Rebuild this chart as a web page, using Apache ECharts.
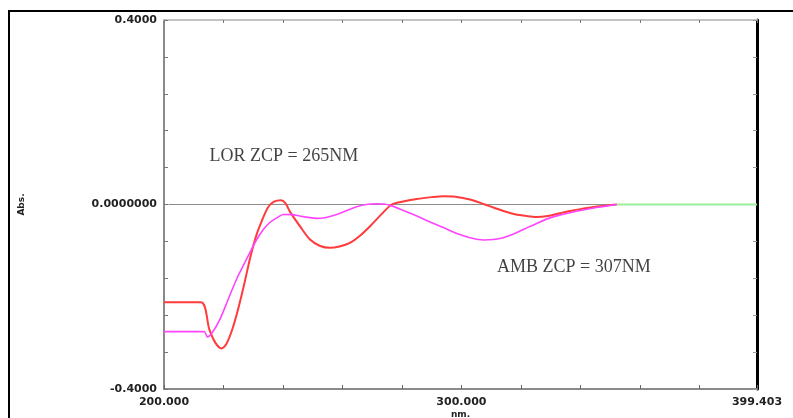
<!DOCTYPE html>
<html>
<head>
<meta charset="utf-8">
<script src="https://cdn.jsdelivr.net/npm/echarts@6/dist/echarts.min.js"></script>
<style>html,body{margin:0;padding:0;background:#fff}#c{width:793px;height:418px}</style>
</head>
<body>
<div id="c"></div>
<script>
// wavelength (nm) / absorbance pairs
const lorWavelengths = [200,212.4,215.3,217.3,219.3,221,223,225,227,229,231,233,235,237,239.3,240.8,242.4,245.7,249.1,252.5,255.8,259,262.5,266,269.3,273,276.6,280,285,290,293.8,298,302.9,307.9,311,314.1,318,322,325.3,329,333,336.5,340,345,349,352.2];
const lorValues = [-0.212,-0.212,-0.272,-0.300,-0.312,-0.302,-0.270,-0.225,-0.172,-0.115,-0.068,-0.034,-0.006,0.006,0.009,0.003,-0.016,-0.047,-0.076,-0.090,-0.094,-0.091,-0.083,-0.067,-0.047,-0.022,0,0.006,0.012,0.016,0.018,0.017,0.011,0,-0.007,-0.014,-0.021,-0.025,-0.027,-0.025,-0.019,-0.014,-0.010,-0.005,-0.002,0];
const ambWavelengths = [200,213.5,214.6,216.2,218.8,221.5,224.4,226.7,228.9,231,233.4,235.6,237.9,240.1,243,245.7,248.5,251.3,254.5,258.1,261.5,264.8,268,271.5,274,276.6,280.5,285,289.5,293.9,298.5,302.9,307.4,310.8,314.1,317.5,320.8,325.3,329.8,333,336.5,340,344,348,352.2];
const ambValues = [-0.2757,-0.2757,-0.287,-0.278,-0.249,-0.207,-0.162,-0.132,-0.104,-0.078,-0.054,-0.039,-0.029,-0.0216,-0.022,-0.025,-0.028,-0.030,-0.028,-0.0216,-0.013,-0.005,0,0.0015,0.001,-0.003,-0.013,-0.025,-0.038,-0.050,-0.063,-0.072,-0.077,-0.076,-0.072,-0.064,-0.054,-0.041,-0.029,-0.023,-0.018,-0.013,-0.008,-0.004,0];
const baseWavelengths = [352.2,399.403];
const baseValues = [0,0];
const zeroWavelengths = [201.5,399.403];
const zeroValues = [0,0];
const xMin = 200, xMax = 399.403;
const yMin = -0.4, yMax = 0.4;
const xTickLabels = {200:'200.000',300:'300.000'};
const xMaxLabel = '399.403';
const yTickLabels = ['-0.4000','0.0000000','0.4000'];
const xName = 'nm.', yName = 'Abs.';
const lorNote = 'LOR ZCP = 265NM', ambNote = 'AMB ZCP = 307NM';
const lorNoteAt = [215.3, 0.105], ambNoteAt = [312, -0.136];

const zip = (a,b) => a.map((v,i)=>[v,b[i]]);
const chart = echarts.init(document.getElementById('c'));
const tickFont = {fontFamily:'DejaVu Sans', fontWeight:'bold', fontSize:11, color:'#222'};
chart.setOption({
  animation:false,
  backgroundColor:'#fff',
  grid:{left:164,right:36,top:20,bottom:29,show:false,containLabel:false,outerBoundsMode:'none'},
  graphic:[{type:'rect',shape:{x:9,y:11,width:820,height:440},style:{fill:null,stroke:'#000',lineWidth:2},silent:true,z:-1}],
  xAxis:[{
    type:'value',min:xMin,max:xMax,interval:20,position:'bottom',
    name:xName,nameLocation:'middle',nameGap:21,nameMoveOverlap:false,
    nameTextStyle:{fontFamily:'DejaVu Sans',fontWeight:'bold',fontSize:9,color:'#222'},
    axisLine:{onZero:false,lineStyle:{color:'#8a8a8a',width:2}},
    axisTick:{inside:true,length:4,lineStyle:{color:'#666'}},
    splitLine:{show:false},
    axisLabel:Object.assign({margin:8,showMaxLabel:true,hideOverlap:false,
      formatter:v=> v>399 ? xMaxLabel : (xTickLabels[Math.round(v)] && Math.abs(v-Math.round(v))<1e-6 ? xTickLabels[Math.round(v)] : '')},tickFont)
  },{
    type:'value',min:xMin,max:xMax,interval:20,position:'top',
    axisLine:{show:true,onZero:false,lineStyle:{color:'#c4c4c4',width:2}},
    axisTick:{inside:true,length:3,lineStyle:{color:'#777'}},
    axisLabel:{show:false},splitLine:{show:false}
  }],
  yAxis:[{
    type:'value',min:yMin,max:yMax,interval:0.08,position:'left',
    name:yName,nameLocation:'middle',nameGap:138,nameRotate:90,nameMoveOverlap:false,
    nameTextStyle:{fontFamily:'DejaVu Sans',fontWeight:'bold',fontSize:9,color:'#222'},
    axisLine:{show:true,onZero:false,lineStyle:{color:'#8a8a8a',width:2}},
    axisTick:{inside:true,length:4,lineStyle:{color:'#777'}},
    splitLine:{show:false},
    axisLabel:Object.assign({margin:7,showMinLabel:true,showMaxLabel:true,
      formatter:v=> Math.abs(v-yMin)<1e-6 ? yTickLabels[0] : (Math.abs(v)<1e-6 ? yTickLabels[1] : (Math.abs(v-yMax)<1e-6 ? yTickLabels[2] : ''))},tickFont)
  },{
    type:'value',min:yMin,max:yMax,interval:0.08,position:'right',
    axisLine:{show:true,onZero:false,lineStyle:{color:'#000',width:3}},
    axisTick:{inside:true,length:4,lineStyle:{color:'#999'}},
    axisLabel:{show:false},splitLine:{show:false}
  }],
  series:[
    {type:'line',name:'zero',data:zip(zeroWavelengths,zeroValues),showSymbol:false,silent:true,z:1,
     lineStyle:{color:'#8c8c8c',width:1}},
    {type:'line',name:'base',data:zip(baseWavelengths,baseValues),showSymbol:false,z:2,
     lineStyle:{color:'#99ee99',width:2}},
    {type:'line',name:'LOR',data:zip(lorWavelengths,lorValues),showSymbol:false,smooth:0.3,z:3,
     lineStyle:{color:'#ff3b3b',width:2}},
    {type:'line',name:'AMB',data:zip(ambWavelengths,ambValues),showSymbol:false,smooth:0.3,z:4,
     lineStyle:{color:'#ff44ff',width:1.6}},
    {type:'scatter',name:'notes',symbolSize:0,silent:true,z:5,
     data:[{value:lorNoteAt,label:{formatter:lorNote}},{value:ambNoteAt,label:{formatter:ambNote}}],
     label:{show:true,position:'right',distance:0,fontFamily:'Liberation Serif',fontSize:18,color:'#111'}}
  ]
});
</script>
</body>
</html>
